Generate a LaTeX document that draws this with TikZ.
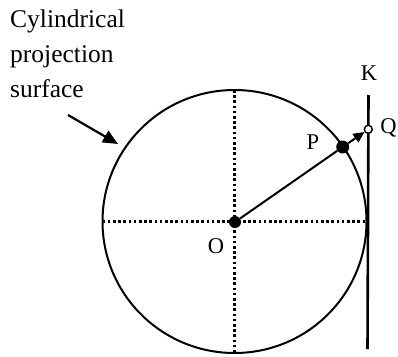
\documentclass[tikz,border=0pt]{standalone}
\usepackage{fontspec}
\setmainfont{Liberation Serif}
\usetikzlibrary{arrows.meta}
\begin{document}
\begin{tikzpicture}[x=1pt,y=-1pt,
  lbl/.style={font=\fontsize{22.5}{26}\selectfont, inner sep=0pt},
  dotline/.style={line width=2.6pt, dash pattern=on 2.6pt off 2.6pt},
  dotfill/.style={circle, fill=black, inner sep=0pt, minimum size=#1},
  openpt/.style={circle, draw=black, fill=white, line width=1.4pt, inner sep=0pt, minimum size=8pt}]
\useasboundingbox (0,0) rectangle (398,356);
\coordinate (C) at (234.5,221.5);
\coordinate (L) at (102.5,221.5);
\coordinate (R) at (366.5,221.5);
\coordinate (T) at (234.5,90);
\coordinate (B) at (234.5,353);
\draw[dotline] (L) -- (R);
\draw[dotline] (T) -- (B);
\draw[line width=2pt] (C) ellipse [x radius=132, y radius=131.5];
\coordinate (Ktop) at (368.5,95);
\coordinate (Kbot) at (367.5,349);
\draw[line width=2.6pt] (Ktop) -- (Kbot);
\node[dotfill=12pt] (O) at (235,222) {};
\node[dotfill=13pt] (P) at (342.7,147) {};
\node[openpt] (Q) at (368.3,129.3) {};
\draw[line width=2pt] (O) -- (P);
\draw[line width=2pt, -{Triangle[length=11pt,width=10pt]}] (P) -- (Q);
\node[lbl] (Kl) at (369,73) {K};
\node[lbl] (Ql) at (388.5,128) {Q};
\node[lbl] (Pl) at (313,142) {P};
\node[lbl] (Ol) at (216,246) {O};
\node[font=\fontsize{25.5}{35}\selectfont, align=left, anchor=north west, inner sep=0pt] (txt) at (10,10) {Cylindrical\\projection\\surface};
\coordinate (a1) at (68,115);
\coordinate (a2) at (118,144);
\draw[line width=2.2pt, -{Triangle[length=15pt,width=13pt]}] (a1) -- (a2);
\end{tikzpicture}
\end{document}
